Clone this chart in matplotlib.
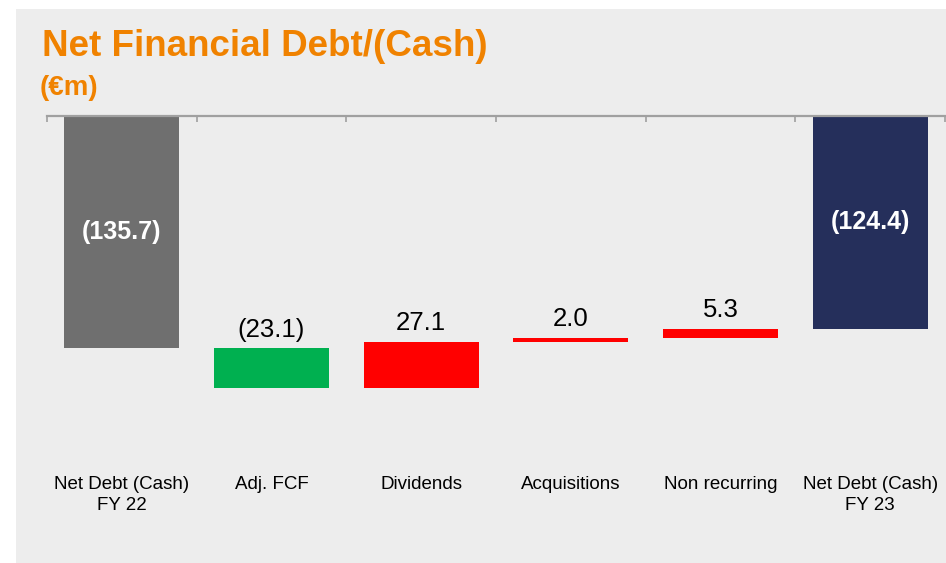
import matplotlib
matplotlib.use("Agg")
import matplotlib.pyplot as plt
from matplotlib.patches import Rectangle
from matplotlib.transforms import blended_transform_factory

plt.rcParams['font.family'] = ['Liberation Sans', 'DejaVu Sans']

categories = ["Net Debt (Cash)\nFY 22", "Adj. FCF", "Dividends", "Acquisitions",
              "Non recurring", "Net Debt (Cash)\nFY 23"]
start_value = -135.7
changes = [-23.1, 27.1, 2.0, 5.3]
end_value = -124.4
value_labels = ["(135.7)", "(23.1)", "27.1", "2.0", "5.3", "(124.4)"]
colors = ["#6F6F6F", "#00B050", "#FF0000", "#FF0000", "#FF0000", "#252F5B"]

W, H = 946, 563
fig = plt.figure(figsize=(W / 100, H / 100), dpi=100)
fig.patch.set_facecolor("white")
fig.patches.append(Rectangle((16 / W, 0), (W - 16) / W, (H - 9) / H,
                             transform=fig.transFigure, facecolor="#EDEDED",
                             edgecolor="none", zorder=-10))

ax_top = 115.5
scale = 1.717  # px per unit
ymin = -200
ax_bottom = ax_top + (-ymin) * scale
ax = fig.add_axes([47 / W, 1 - ax_bottom / H, (945 - 47) / W, (ax_bottom - ax_top) / H])
ax.set_facecolor("none")
ax.set_zorder(1)

# waterfall geometry
bottoms, heights = [0], [start_value]
level = start_value
for c in changes:
    bottoms.append(level)
    heights.append(c)
    level += c
bottoms.append(0)
heights.append(end_value)

x = list(range(len(categories)))
ax.bar(x, heights, bottom=bottoms, width=0.767, color=colors, zorder=2)

for i, (b, h, lab) in enumerate(zip(bottoms, heights, value_labels)):
    if i in (0, len(categories) - 1):
        ax.text(i, b + h / 2, lab, ha="center", va="center", color="white",
                fontsize=18, fontweight="bold", zorder=3)
    else:
        top = max(b, b + h)
        ax.annotate(lab, (i, top), xytext=(0, 13.5), textcoords="offset points",
                    ha="center", va="center", color="black", fontsize=18.5, zorder=3)

ax.set_xlim(-0.5, len(categories) - 0.5)
ax.set_ylim(ymin, 0)
for s in ["left", "right", "bottom"]:
    ax.spines[s].set_visible(False)
ax.spines["top"].set_color("#A0A0A0")
ax.spines["top"].set_linewidth(1.6)
ax.xaxis.tick_top()
ax.set_xticks([i - 0.5 for i in range(len(categories) + 1)])
ax.tick_params(axis="x", direction="in", length=4, width=1.2, color="#A0A0A0",
               labeltop=False, labelbottom=False)
ax.set_yticks([])

trans = blended_transform_factory(ax.transData, fig.transFigure)
for i, cat in enumerate(categories):
    ax.text(i, 1 - 476 / H, cat, transform=trans, ha="center", va="top",
            fontsize=13.5, linespacing=1.32, color="black", clip_on=False)

fig.text(42 / W, 1 - 56 / H, "Net Financial Debt/(Cash)", ha="left", va="baseline",
         fontsize=26.5, fontweight="bold", color="#F08200")
fig.text(40 / W, 1 - 95 / H, "(€m)", ha="left", va="baseline",
         fontsize=20, fontweight="bold", color="#F08200")

fig.savefig("out.png", dpi=100, facecolor=fig.get_facecolor())
